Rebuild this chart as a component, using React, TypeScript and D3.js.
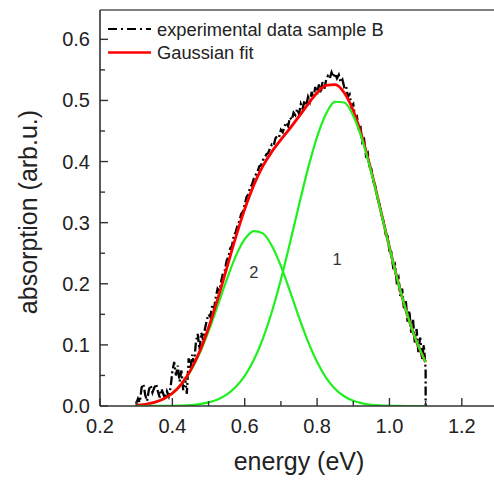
import React from "react";
import * as d3 from "d3";

// ---- data ----
const fitEnergy = [0.3, 0.325, 0.35, 0.375, 0.4, 0.425, 0.45, 0.475, 0.5, 0.525, 0.55, 0.575, 0.6, 0.625, 0.65, 0.675, 0.7, 0.725, 0.75, 0.775, 0.8, 0.825, 0.85, 0.875, 0.9, 0.925, 0.95, 0.975, 1.0, 1.025, 1.05, 1.075, 1.1];
const gauss1 = [0, 0, 0.0001, 0.0002, 0.0004, 0.0008, 0.0016, 0.0031, 0.0059, 0.0107, 0.0186, 0.031, 0.0493, 0.0752, 0.11, 0.1542, 0.2071, 0.2666, 0.3289, 0.3888, 0.4405, 0.4784, 0.4979, 0.4967, 0.4748, 0.435, 0.3819, 0.3213, 0.2592, 0.2003, 0.1484, 0.1053, 0.0717];
const gauss2 = [0.0013, 0.0028, 0.0058, 0.0113, 0.0205, 0.0351, 0.0566, 0.0857, 0.1222, 0.1637, 0.2064, 0.2448, 0.2729, 0.2863, 0.2825, 0.2621, 0.2288, 0.1878, 0.145, 0.1053, 0.072, 0.0462, 0.0279, 0.0159, 0.0085, 0.0043, 0.002, 0.0009, 0.0004, 0.0001, 0, 0, 0];
const gaussFit = [0.0013, 0.0028, 0.0059, 0.0115, 0.0209, 0.0359, 0.0582, 0.0888, 0.1281, 0.1744, 0.225, 0.2758, 0.3222, 0.3615, 0.3925, 0.4163, 0.4359, 0.4544, 0.4739, 0.4941, 0.5125, 0.5246, 0.5258, 0.5126, 0.4833, 0.4393, 0.3839, 0.3222, 0.2596, 0.2004, 0.1484, 0.1053, 0.0717];

const expEnergy = [
  0.3, 0.305, 0.31, 0.315, 0.32, 0.325, 0.33, 0.335, 0.34, 0.345, 0.35, 0.355, 0.36, 0.365, 0.37, 0.375, 0.38, 0.385, 0.39, 0.395,
  0.4, 0.405, 0.41, 0.415, 0.42, 0.425, 0.43, 0.435, 0.44, 0.445, 0.45, 0.455, 0.46, 0.465, 0.47, 0.475, 0.48, 0.485, 0.49, 0.495,
  0.5, 0.505, 0.51, 0.515, 0.52, 0.525, 0.53, 0.535, 0.54, 0.545, 0.55, 0.555, 0.56, 0.565, 0.57, 0.575, 0.58, 0.585, 0.59, 0.595,
  0.6, 0.605, 0.61, 0.615, 0.62, 0.625, 0.63, 0.635, 0.64, 0.645, 0.65, 0.655, 0.66, 0.665, 0.67, 0.675, 0.68, 0.685, 0.69, 0.695,
  0.7, 0.705, 0.71, 0.715, 0.72, 0.725, 0.73, 0.735, 0.74, 0.745, 0.75, 0.755, 0.76, 0.765, 0.77, 0.775, 0.78, 0.785, 0.79, 0.795,
  0.8, 0.805, 0.81, 0.815, 0.82, 0.825, 0.83, 0.835, 0.84, 0.845, 0.85, 0.855, 0.86, 0.865, 0.87, 0.875, 0.88, 0.885, 0.89, 0.895,
  0.9, 0.905, 0.91, 0.915, 0.92, 0.925, 0.93, 0.935, 0.94, 0.945, 0.95, 0.955, 0.96, 0.965, 0.97, 0.975, 0.98, 0.985, 0.99, 0.995,
  1.0, 1.005, 1.01, 1.015, 1.02, 1.025, 1.03, 1.035, 1.04, 1.045, 1.05, 1.055, 1.06, 1.065, 1.07, 1.075, 1.08, 1.085, 1.09, 1.095,
  1.1, 1.1, 1.1,
];
const expAbsorption = [
  0.004, 0.012, 0.006, 0.03, 0.036, 0.018, 0.008, 0.026, 0.034, 0.022, 0.03, 0.036, 0.024, 0.014, 0.028, 0.02, 0.012, 0.024, 0.016, 0.03,
  0.056, 0.072, 0.05, 0.066, 0.04, 0.058, 0.026, 0.046, 0.02, 0.078, 0.06, 0.084, 0.07, 0.104, 0.118, 0.092, 0.12, 0.108, 0.126, 0.14,
  0.15, 0.146, 0.164, 0.158, 0.178, 0.192, 0.188, 0.204, 0.218, 0.222, 0.238, 0.244, 0.258, 0.262, 0.28, 0.284, 0.296, 0.302, 0.314, 0.318,
  0.33, 0.342, 0.346, 0.358, 0.362, 0.372, 0.378, 0.382, 0.392, 0.394, 0.402, 0.406, 0.412, 0.414, 0.422, 0.428, 0.426, 0.438, 0.442, 0.44,
  0.452, 0.448, 0.458, 0.464, 0.458, 0.472, 0.468, 0.48, 0.476, 0.486, 0.478, 0.494, 0.486, 0.5, 0.492, 0.506, 0.498, 0.514, 0.504, 0.522,
  0.51, 0.526, 0.512, 0.53, 0.518, 0.534, 0.54, 0.536, 0.546, 0.538, 0.544, 0.536, 0.542, 0.53, 0.534, 0.522, 0.524, 0.506, 0.51, 0.49,
  0.494, 0.472, 0.474, 0.454, 0.456, 0.432, 0.436, 0.41, 0.414, 0.392, 0.388, 0.368, 0.362, 0.346, 0.334, 0.326, 0.308, 0.3, 0.28, 0.278,
  0.254, 0.252, 0.228, 0.232, 0.204, 0.21, 0.18, 0.192, 0.16, 0.174, 0.138, 0.156, 0.12, 0.142, 0.104, 0.126, 0.088, 0.112, 0.076, 0.1,
  0.06, 0.03, 0.0,
];

const xTicks = [0.2, 0.4, 0.6, 0.8, 1.0, 1.2];
const xMinorTicks = [0.3, 0.5, 0.7, 0.9, 1.1];
const yTicks = [0.0, 0.1, 0.2, 0.3, 0.4, 0.5, 0.6];
const yMinorTicks = [0.05, 0.15, 0.25, 0.35, 0.45, 0.55];

const peakLabels = [
  { text: "1", energy: 0.855, value: 0.231 },
  { text: "2", energy: 0.625, value: 0.2095 },
];
const legendItems = ["experimental data sample B", "Gaussian fit"];

const W = 494;
const H = 480;
const FONT = "'Liberation Sans', Arial, sans-serif";
const AXIS = "#333";

export default function App() {
  const x = d3.scaleLinear().domain([0.2, 1.3]).range([100, 498]);
  const y = d3.scaleLinear().domain([0, 0.648]).range([406, 10]);

  const smooth = d3
    .line<number>()
    .x((_, i) => x(fitEnergy[i]))
    .curve(d3.curveMonotoneX);
  const pathG1 = smooth.y((v) => y(v))(gauss1) as string;
  const pathG2 = smooth.y((v) => y(v))(gauss2) as string;
  const pathFit = smooth.y((v) => y(v))(gaussFit) as string;

  const expLine = d3
    .line<number>()
    .x((_, i) => x(expEnergy[i]))
    .y((v) => y(v));
  const pathExp = expLine(expAbsorption) as string;

  const green = "#1ef01e";
  const red = "#ff0000";

  return (
    <svg
      width={W}
      height={H}
      style={{ position: "absolute", left: 0, top: 0, background: "#fff" }}
      fontFamily={FONT}
    >
      <rect x={0} y={0} width={W} height={H} fill="#fff" />
      <defs>
        <clipPath id="plot">
          <rect x={100} y={10} width={400} height={396} />
        </clipPath>
      </defs>

      <g clipPath="url(#plot)">
        <path d={pathExp} fill="none" stroke="#000" strokeWidth={2.3} strokeDasharray="9,3,2,3" />
        <path d={pathG2} fill="none" stroke={green} strokeWidth={2.2} />
        <path d={pathFit} fill="none" stroke={red} strokeWidth={2.8} />
        <path d={pathG1} fill="none" stroke={green} strokeWidth={2.2} />
      </g>

      {/* frame */}
      <line x1={100} x2={W} y1={10} y2={10} stroke="#555" strokeWidth={1.6} />
      <line x1={100} x2={100} y1={10} y2={406} stroke={AXIS} strokeWidth={1.6} />
      <line x1={100} x2={W} y1={406} y2={406} stroke={AXIS} strokeWidth={1.6} />

      {/* x ticks */}
      {xTicks.map((t) => (
        <g key={"xt" + t}>
          <line x1={x(t)} x2={x(t)} y1={406} y2={398} stroke={AXIS} strokeWidth={1.4} />
          <text x={x(t)} y={433} fontSize={20} textAnchor="middle" fill="#222">
            {t.toFixed(1)}
          </text>
        </g>
      ))}
      {xMinorTicks.map((t) => (
        <line key={"xm" + t} x1={x(t)} x2={x(t)} y1={406} y2={401} stroke={AXIS} strokeWidth={1.4} />
      ))}

      {/* y ticks */}
      {yTicks.map((t) => (
        <g key={"yt" + t}>
          <line x1={100} x2={108} y1={y(t)} y2={y(t)} stroke={AXIS} strokeWidth={1.4} />
          <text x={90} y={y(t) + 7} fontSize={20} textAnchor="end" fill="#222">
            {t.toFixed(1)}
          </text>
        </g>
      ))}
      {yMinorTicks.map((t) => (
        <line key={"ym" + t} x1={100} x2={105} y1={y(t)} y2={y(t)} stroke={AXIS} strokeWidth={1.4} />
      ))}

      {/* axis titles */}
      <text x={299} y={470} fontSize={25} textAnchor="middle" fill="#222">
        energy (eV)
      </text>
      <text
        transform={`translate(37,${(10 + 406) / 2 + 4}) rotate(-90)`}
        fontSize={25}
        textAnchor="middle"
        fill="#222"
      >
        absorption (arb.u.)
      </text>

      {/* peak labels */}
      {peakLabels.map((p) => (
        <text key={p.text} x={x(p.energy)} y={y(p.value)} fontSize={16.5} textAnchor="middle" fill="#333">
          {p.text}
        </text>
      ))}

      {/* legend */}
      <line x1={108} x2={151} y1={29} y2={29} stroke="#000" strokeWidth={2} strokeDasharray="9,4,2,4" />
      <text x={157} y={35.5} fontSize={18.3} fill="#222">
        {legendItems[0]}
      </text>
      <line x1={108} x2={151} y1={52.5} y2={52.5} stroke={red} strokeWidth={2.6} />
      <text x={157} y={59} fontSize={18.3} fill="#222">
        {legendItems[1]}
      </text>
    </svg>
  );
}
